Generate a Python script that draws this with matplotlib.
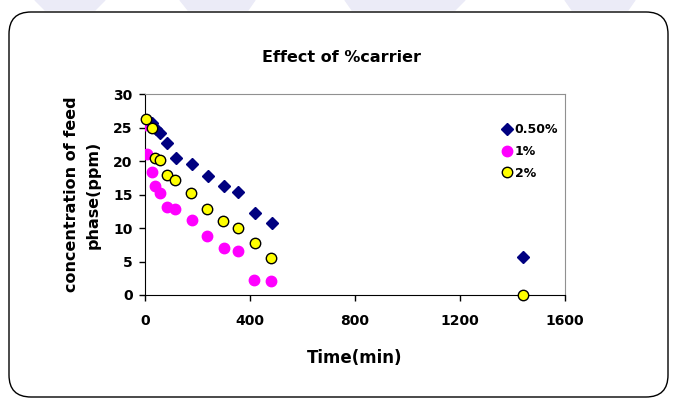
import matplotlib
matplotlib.use("Agg")
import matplotlib.pyplot as plt
from matplotlib.patches import FancyBboxPatch, Polygon

plt.rcParams['font.family'] = ['DejaVu Sans']
plt.rcParams['font.weight'] = 'bold'

# time (min) and feed phase concentration (ppm)
t_050 = [5, 25, 40, 58, 85, 118, 179, 239, 301, 356, 420, 484, 1440]
c_050 = [26.1, 25.6, 24.8, 24.2, 22.7, 20.5, 19.5, 17.7, 16.3, 15.3, 12.3, 10.8, 5.7]

t_1 = [0, 6, 27, 39, 57, 83, 114, 178, 235, 300, 353, 416, 481]
c_1 = [25.4, 21.1, 18.3, 16.2, 15.2, 13.2, 12.9, 11.2, 8.8, 7.0, 6.5, 2.3, 2.1]

t_2 = [5, 25, 38, 57, 83, 114, 176, 235, 298, 353, 418, 481, 1440]
c_2 = [26.3, 25.0, 20.4, 20.1, 17.9, 17.1, 15.2, 12.9, 11.0, 10.0, 7.8, 5.5, 0.0]

labels = ['0.50%', '1%', '2%']
x_ticks = [0, 400, 800, 1200, 1600]
y_ticks = [0, 5, 10, 15, 20, 25, 30]

fig = plt.figure(figsize=(6.74, 4), dpi=100)
ax = fig.add_axes([145/674, 1-295/400, 420/674, 201/400])

# faint watermark shapes along the top edge
for xs in [(35, 105, 95, 45), (180, 255, 248, 188), (345, 465, 455, 352), (565, 635, 628, 572)]:
    fig.add_artist(Polygon([(xs[0], 400), (xs[1], 400), (xs[2], 390), (xs[3], 390)],
                           closed=True, transform=None, color='#ebebf7', zorder=0))

# rounded chart border, in pixels
fig.add_artist(FancyBboxPatch((9, 3), 659, 385, boxstyle="round,pad=0,rounding_size=22",
                              transform=None, fill=False, edgecolor='black', linewidth=1.0))

ax.plot(t_050, c_050, linestyle='none', marker='D', markersize=6.5,
        color='#000080', label=labels[0], zorder=3)
ax.plot(t_1, c_1, linestyle='none', marker='o', markersize=7.5,
        color='#FF00FF', label=labels[1], zorder=4)
ax.plot(t_2, c_2, linestyle='none', marker='o', markersize=7.5,
        markerfacecolor='#FFFF00', markeredgecolor='black', markeredgewidth=1.0,
        label=labels[2], zorder=5, clip_on=False)

ax.set_xlim(0, 1600)
ax.set_ylim(0, 30)
ax.set_xticks(x_ticks)
ax.set_yticks(y_ticks)
ax.tick_params(direction='out', length=4, width=1, labelsize=10)
ax.tick_params(axis='x', pad=10)
ax.tick_params(axis='y', pad=5)
for s in ['top', 'right']:
    ax.spines[s].set_color('#909090')
for s in ['left', 'bottom']:
    ax.spines[s].set_color('black')

ax.set_xlabel('Time(min)', fontsize=12, fontweight='bold', labelpad=15)
ax.set_ylabel('concentration of feed\nphase(ppm)', fontsize=11.5, fontweight='bold',
              labelpad=9, linespacing=1.5)
fig.text(341/674, 1-58/400, 'Effect of %carrier', ha='center', va='center',
         fontsize=11.5, fontweight='bold')

ax.legend(loc='upper left', bbox_to_anchor=(494/674, 1-117/400), bbox_transform=fig.transFigure,
          frameon=False, fontsize=9, handletextpad=0.15, labelspacing=0.7,
          handlelength=1.0, borderpad=0)

fig.savefig('out.png', dpi=100)
